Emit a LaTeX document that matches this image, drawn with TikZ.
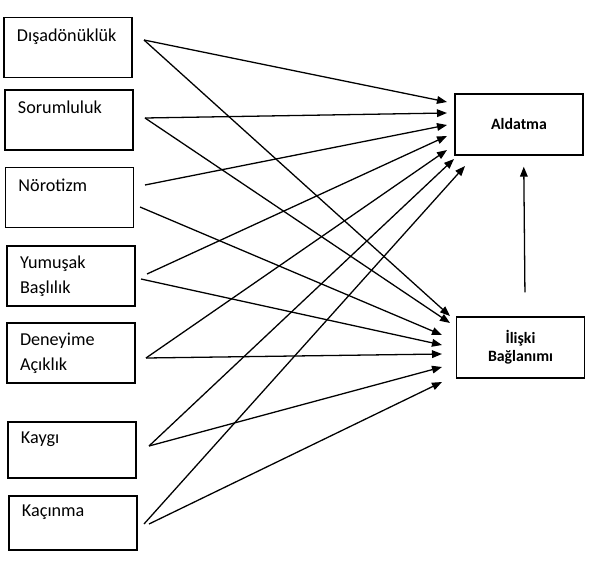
\documentclass[tikz,border=0pt]{standalone}
\usepackage{fontspec}
\setmainfont{Carlito}
\usetikzlibrary{arrows.meta, positioning, calc}

\begin{document}
\begin{tikzpicture}[x=0.3mm, y=-0.3mm,
	trait/.style={draw, line width=1.2pt, minimum height=18mm, text width=30.6mm,
		inner xsep=3.9mm, align=left, font=\fontsize{15.5}{21.3}\selectfont},
	outcome/.style={draw, line width=1.2pt, minimum width=38.4mm, minimum height=18.3mm,
		align=center, font=\bfseries\fontsize{13.5}{15.5}\selectfont},
	link/.style={line width=1.1pt, -{Triangle[length=3mm, width=2.3mm]}}]
	
			\useasboundingbox (0,0) rectangle (591,571);
			
			% --- Boxes ---
			% Predictors (left column)
			\node[trait] (Dis) at (68,47.5) {Dışadönüklük\\\mbox{}};
			\node[trait] (Sor) at (69,120) {Sorumluluk\\\mbox{}};
			\node[trait] (Nor) at (69.5,197.5) {Nörotizm\\\mbox{}};
			\node[trait] (Yum) at (71,276) {Yumuşak\\Başlılık};
			\node[trait] (Den) at (71,353) {Deneyime\\Açıklık};
			\node[trait, minimum height=16.8mm] (Kay) at (72,450) {Kaygı\\\mbox{}};
			\node[trait, minimum height=16.2mm] (Kac) at (73,523) {Kaçınma\\\mbox{}};
			
			% Outcomes (right column)
			\node[outcome] (Ald) at (519,124.5) {Aldatma};
			\node[outcome] (Ili) at (520.5,347.5) {İlişki\\Bağlanımı};
			
			% --- Define Coordinates ---
			% Start points, just right of the boxes
			\coordinate (Out_Dis) at (144,40);
			\coordinate (Out_Sor) at (145,118);
			\coordinate (Out_Nor_up) at (145,185);
			\coordinate (Out_Nor_dn) at (140,207);
			\coordinate (Out_Yum_up) at (147,274);
			\coordinate (Out_Yum_dn) at (141,279);
			\coordinate (Out_Den) at (146,358);
			\coordinate (Out_Kay) at (149,446);
			\coordinate (Out_Kac_up) at (144,524);
			\coordinate (Out_Kac_dn) at (149,524);
			
			% Arrow tips in front of Aldatma
			\coordinate (In_Ald_1) at (447,102);
			\coordinate (In_Ald_2) at (447,113);
			\coordinate (In_Ald_3) at (447,125);
			\coordinate (In_Ald_4) at (447,136);
			\coordinate (In_Ald_5) at (447,150);
			\coordinate (In_Ald_6) at (454,159);
			\coordinate (In_Ald_7) at (465,166);
			
			% Arrow tips in front of Ilişki Bağlanımı
			\coordinate (In_Ili_1) at (450,316);
			\coordinate (In_Ili_2) at (450,323);
			\coordinate (In_Ili_3) at (442,335);
			\coordinate (In_Ili_4) at (442,345);
			\coordinate (In_Ili_5) at (442,354);
			\coordinate (In_Ili_6) at (442,367);
			\coordinate (In_Ili_7) at (442,382);
			
			% --- Draw the Paths ---
			% to Aldatma
			\draw[link] (Out_Dis) -- (In_Ald_1);
			\draw[link] (Out_Sor) -- (In_Ald_2);
			\draw[link] (Out_Nor_up) -- (In_Ald_3);
			\draw[link] (Out_Yum_up) -- (In_Ald_4);
			\draw[link] (Out_Den) -- (In_Ald_5);
			\draw[link] (Out_Kay) -- (In_Ald_6);
			\draw[link] (Out_Kac_up) -- (In_Ald_7);
			
			% to Ilişki Bağlanımı
			\draw[link] (Out_Dis) -- (In_Ili_1);
			\draw[link] (Out_Sor) -- (In_Ili_2);
			\draw[link] (Out_Nor_dn) -- (In_Ili_3);
			\draw[link] (Out_Yum_dn) -- (In_Ili_4);
			\draw[link] (Out_Den) -- (In_Ili_5);
			\draw[link] (Out_Kay) -- (In_Ili_6);
			\draw[link] (Out_Kac_dn) -- (In_Ili_7);
			
			% Ilişki Bağlanımı -> Aldatma
			\draw[link, shorten <=7.2mm, shorten >=3.3mm] ([xshift=1.4mm]Ili.north) -- ([xshift=1.4mm]Ald.south);
			
		\end{tikzpicture}
\end{document}
